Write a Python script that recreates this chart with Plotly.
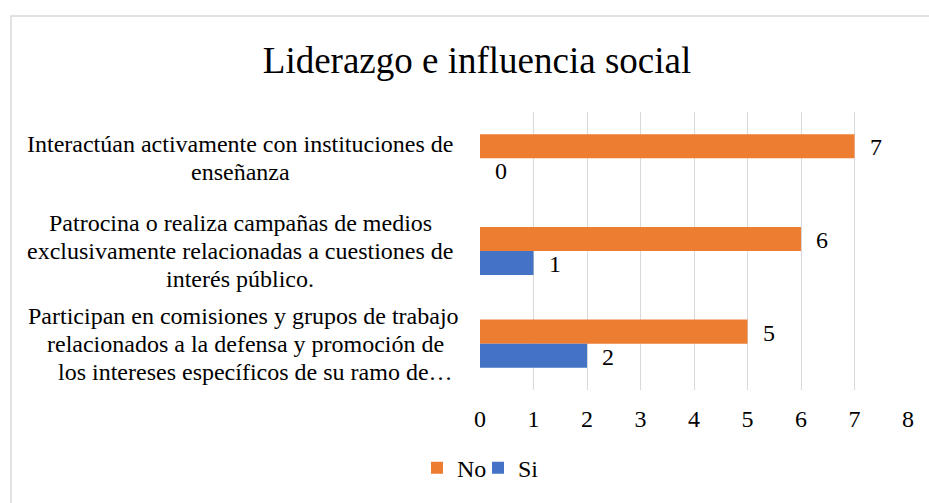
import plotly.graph_objects as go

category_lines = [
    ["Interactúan activamente con instituciones de", "enseñanza"],
    ["Patrocina o realiza campañas de medios",
     "exclusivamente relacionadas a cuestiones de",
     "interés público."],
    ["Participan en comisiones y grupos de trabajo",
     "relacionados a la defensa y promoción de",
     "los intereses específicos de su ramo de…"],
]
no_values = [7, 6, 5]
si_values = [0, 1, 2]
x_ticks = [0, 1, 2, 3, 4, 5, 6, 7, 8]

# horizontal nudges (px) of each label line, as laid out in the original
line_dx = [[0, 0], [0, 0, 0], [3, 5, 15]]

ORANGE = "#ED7D31"
BLUE = "#4472C4"
FONT = "Liberation Serif"
FS = 24
LINE = 28
W, H = 929, 503
ML, MR, MT, MB = 480, 21, 112, 110

ypos = list(range(len(category_lines)))

fig = go.Figure()
fig.add_trace(go.Bar(name="No", y=ypos, x=no_values, orientation="h",
                     marker=dict(color=ORANGE, line=dict(width=0))))
fig.add_trace(go.Bar(name="Si", y=ypos, x=si_values, orientation="h",
                     marker=dict(color=BLUE, line=dict(width=0))))

tf = dict(family=FONT, size=FS, color="black")
annotations = []
for i, (n, s) in enumerate(zip(no_values, si_values)):
    annotations.append(dict(x=n, y=i, xref="x", yref="y", text=str(n), showarrow=False,
                            xshift=21, yshift=11, font=tf))
    annotations.append(dict(x=s, y=i, xref="x", yref="y", text=str(s), showarrow=False,
                            xshift=21, yshift=-13, font=tf))
    lines = category_lines[i]
    k = len(lines)
    for j, ln in enumerate(lines):
        annotations.append(dict(x=0, y=i, xref="x", yref="y", text=ln, showarrow=False,
                                xanchor="center", yanchor="middle",
                                xshift=-240 + line_dx[i][j],
                                yshift=((k - 1) / 2 - j) * LINE, font=tf))

pw = W - ML - MR
ph = H - MT - MB
shapes = [dict(type="path", xref="paper", yref="paper",
               path=f"M {(11-ML)/pw} {-(MB+10)/ph} L {(11-ML)/pw} {(H-MB-15)/ph} L {(W+10-ML)/pw} {(H-MB-15)/ph}",
               line=dict(color="#d9d9d9", width=1.5), layer="below")]

fig.update_layout(
    width=W, height=H,
    margin=dict(l=ML, r=MR, t=MT, b=MB),
    paper_bgcolor="white", plot_bgcolor="white",
    font=dict(family=FONT, size=FS, color="black"),
    title=dict(text="Liderazgo e influencia social", x=477/W, xanchor="center",
               y=1-60/H, yanchor="middle", xref="container", yref="container",
               font=dict(family=FONT, size=37, color="black")),
    barmode="group", bargap=0.48, bargroupgap=0,
    xaxis=dict(range=[0, 8], tickvals=x_ticks, ticktext=[str(v) for v in x_ticks],
               showgrid=True, gridcolor="#d9d9d9", gridwidth=1.3, zeroline=False,
               showline=False, ticks="outside", ticklen=7, tickcolor="rgba(0,0,0,0)",
               tickfont=tf, fixedrange=True),
    yaxis=dict(range=[2.5, -0.5], showticklabels=False, showgrid=False, zeroline=False,
               showline=False, tickvals=[], fixedrange=True),
    legend=dict(orientation="h", x=(478-ML)/pw, xanchor="center", y=(393-472)/ph,
                yanchor="middle", font=tf,
                itemwidth=30, entrywidth=16, entrywidthmode="pixels",
                bgcolor="rgba(0,0,0,0)"),
    annotations=annotations,
    shapes=shapes,
    showlegend=True,
)

fig.write_html("out.html", post_script="document.body.style.margin='0';",
               config={"displayModeBar": False})
